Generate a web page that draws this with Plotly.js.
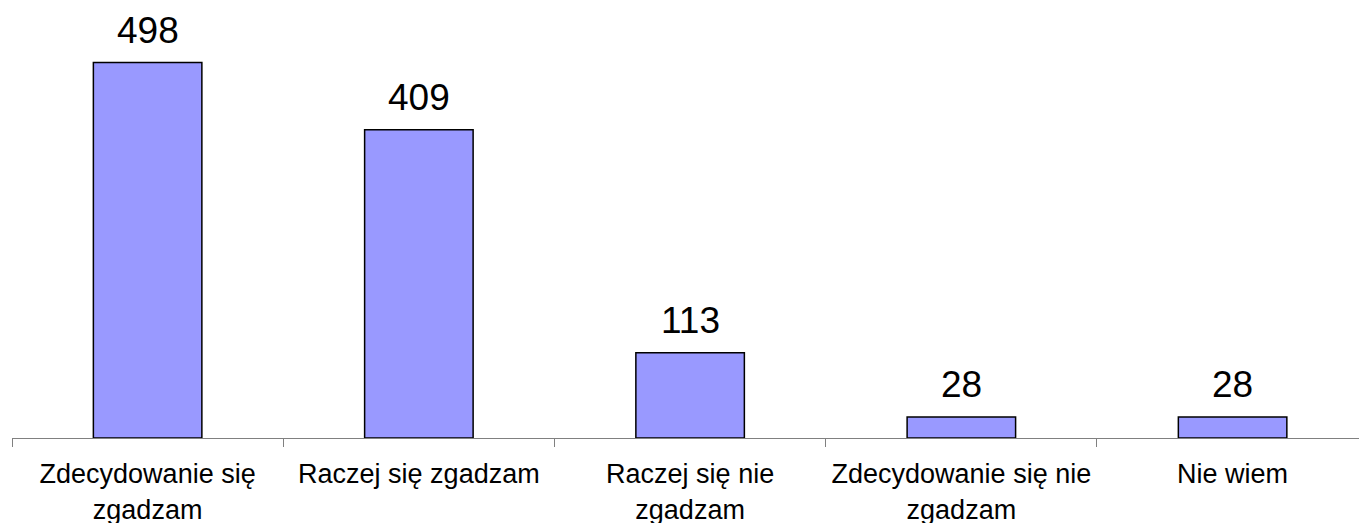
<!DOCTYPE html>
<html><head><meta charset="utf-8">
<script src="https://cdn.plot.ly/plotly-3.0.1.min.js"></script>
<style>html,body{margin:0;padding:0;background:#fff}#c{width:1359px;height:523px}</style>
</head><body><div id="c"></div>
<script>
const categories = ["Zdecydowanie się zgadzam","Raczej się zgadzam","Raczej się nie zgadzam","Zdecydowanie się nie zgadzam","Nie wiem"];
const tickLabels = ["Zdecydowanie się<br>zgadzam","Raczej się zgadzam","Raczej się nie<br>zgadzam","Zdecydowanie się nie<br>zgadzam","Nie wiem"];
const values = [498, 409, 113, 28, 28];

const font = "Liberation Sans, Arial, sans-serif";
const trace = {
  type: "bar", x: categories, y: values, width: 0.4,
  marker: {color: "#9999FF", line: {color: "#000000", width: 1.5}},
  hoverinfo: "none"
};
const annotations = categories.map((c, i) => ({
  x: c, y: values[i], text: String(values[i]), showarrow: false,
  xanchor: "center", yanchor: "bottom", yshift: 10,
  font: {family: font, size: 37, color: "#000"}
}));
const layout = {
  width: 1359, height: 523,
  margin: {l: 12, r: 0, t: 0, b: 85},
  paper_bgcolor: "#fff", plot_bgcolor: "#fff",
  showlegend: false,
  xaxis: {
    type: "category", range: [-0.5, 4.466],
    tickmode: "array", tickvals: categories, ticktext: tickLabels,
    tickson: "boundaries", ticks: "outside", ticklen: 8, tickcolor: "#808080", tickwidth: 1,
    ticklabelstandoff: 12,
    showline: true, linecolor: "#808080", linewidth: 1,
    showgrid: false, zeroline: false,
    tickfont: {family: font, size: 27, color: "#000"}
  },
  yaxis: {range: [0, 581], visible: false, showgrid: false, zeroline: false},
  annotations: annotations
};
Plotly.newPlot("c", [trace], layout, {staticPlot: true, displayModeBar: false});
</script></body></html>
